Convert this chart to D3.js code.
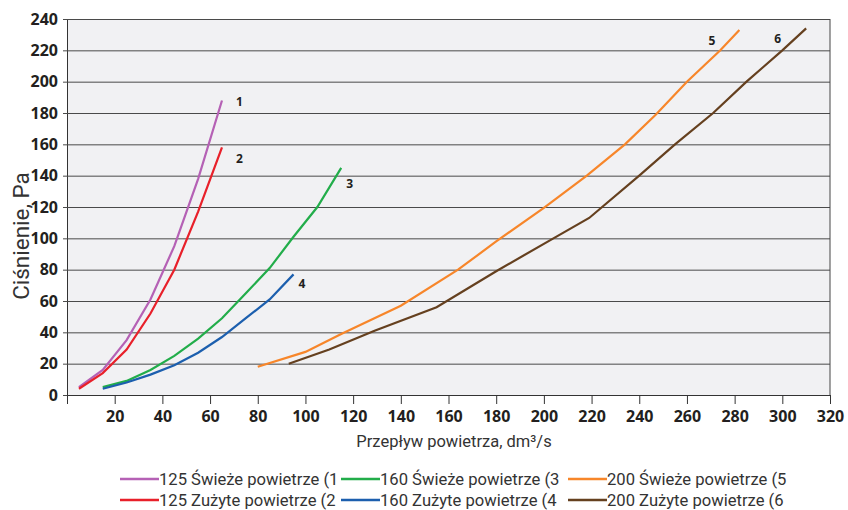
<!DOCTYPE html>
<html>
<head>
<meta charset="utf-8">
<script src="https://d3js.org/d3.v7.min.js"></script>
<style>
  body { margin: 0; background: #fff; }
  .tick text { font-family: "Open Sans", sans-serif; font-weight: 700; fill: #231f20; }
</style>
</head>
<body>
<svg id="chart" width="848" height="510"></svg>
<script>
// airflow vs pressure, one array per curve
var names = ["125 Świeże powietrze (1", "125 Zużyte powietrze (2", "160 Świeże powietrze (3",
             "160 Zużyte powietrze (4", "200 Świeże powietrze (5", "200 Zużyte powietrze (6"];
var tags = ["1", "2", "3", "4", "5", "6"];
var colors = ["#b561b5", "#e8202a", "#22ad4a", "#1c5fae", "#f7862a", "#65401f"];

var flow1 = [5, 15, 25, 35, 45, 55, 65];
var pres1 = [5, 16, 35, 61, 95, 138, 188];
var flow2 = [5, 15, 25, 35, 45, 55, 65];
var pres2 = [4, 14, 29, 52, 80, 117, 158];
var flow3 = [15, 25, 35, 45, 55, 65, 75, 85, 95, 105, 115];
var pres3 = [5, 9, 16, 25, 36, 49, 65, 81, 101, 120, 145];
var flow4 = [15, 25, 35, 45, 55, 65, 75, 85, 95];
var pres4 = [4, 8, 13, 19, 27, 37, 49, 61, 77];
var flow5 = [80, 100, 115, 140, 164, 180, 200, 218, 234, 247, 260, 274, 282];
var pres5 = [18, 27.5, 39, 57, 80, 98, 119.5, 140, 160, 179, 200, 220, 233];
var flow6 = [93, 110, 129, 155, 180, 204, 219, 240, 255, 271, 285, 300, 310];
var pres6 = [20, 29, 41, 56, 79, 100, 113, 140, 160, 180, 200, 220, 234];

var xTicks = [20, 40, 60, 80, 100, 120, 140, 160, 180, 200, 220, 240, 260, 280, 300, 320];
var yTicks = [0, 20, 40, 60, 80, 100, 120, 140, 160, 180, 200, 220, 240];

var flows = [flow1, flow2, flow3, flow4, flow5, flow6];
var pres = [pres1, pres2, pres3, pres4, pres5, pres6];
var series = names.map(function (n, i) {
    return { name: n, tag: tags[i], color: colors[i],
             pts: flows[i].map(function (f, j) { return [f, pres[i][j]]; }) };
});

// offsets of the curve number labels from the curve end
var tagOff = [[14, 6], [14, 16], [5, 20], [5, 14], [-31, 15], [-32, 15]];

var svg = d3.select("#chart");
var pL = 67, pR = 830, pT = 19, pB = 395;

var x = d3.scaleLinear().domain([0, 320]).range([pL, pR]);
var y = d3.scaleLinear().domain([0, 240]).range([pB, pT]);

svg.append("rect")
    .attr("x", pL).attr("y", pT)
    .attr("width", pR - pL).attr("height", pB - pT)
    .attr("fill", "#f1f1f3");

// grid + left axis
var yAxis = svg.append("g")
    .attr("transform", "translate(" + pL + ",0)")
    .call(d3.axisLeft(y).tickValues(yTicks).tickSize(-(pR - pL)).tickPadding(9).tickSizeOuter(0));
yAxis.select(".domain").attr("stroke", "#333");
yAxis.selectAll(".tick line").attr("stroke", "#4a4a4a").attr("x1", -4);
yAxis.selectAll(".tick text").style("font-size", "16px");

var xAxis = svg.append("g")
    .attr("transform", "translate(0," + pB + ")")
    .call(d3.axisBottom(x).tickValues(xTicks).tickSize(9).tickPadding(6).tickSizeOuter(9));
xAxis.select(".domain").attr("stroke", "#333");
xAxis.selectAll(".tick line").attr("stroke", "#333");
xAxis.selectAll(".tick text").style("font-size", "16px").attr("dy", "0.72em");

// right border
svg.append("line")
    .attr("x1", pR).attr("x2", pR).attr("y1", pT).attr("y2", pB)
    .attr("stroke", "#444");

var line = d3.line()
    .x(function (d) { return x(d[0]); })
    .y(function (d) { return y(d[1]); });

svg.selectAll(".curve")
    .data(series)
    .enter()
    .append("path")
    .attr("class", "curve")
    .attr("d", function (d) { return line(d.pts); })
    .attr("fill", "none")
    .attr("stroke", function (d) { return d.color; })
    .attr("stroke-width", 2.2);

svg.selectAll(".tag")
    .data(series)
    .enter()
    .append("text")
    .attr("class", "tag")
    .attr("x", function (d, i) { return x(d.pts[d.pts.length - 1][0]) + tagOff[i][0]; })
    .attr("y", function (d, i) { return y(d.pts[d.pts.length - 1][1]) + tagOff[i][1]; })
    .attr("font-family", "Open Sans, sans-serif")
    .attr("font-weight", 700)
    .attr("font-size", 12)
    .attr("fill", "#231f20")
    .text(function (d) { return d.tag; });

// axis titles
svg.append("text")
    .attr("transform", "translate(29,236) rotate(-90)")
    .attr("text-anchor", "middle")
    .attr("font-family", "Roboto, sans-serif")
    .attr("font-size", 22.5)
    .attr("fill", "#333")
    .text("Ciśnienie, Pa");

svg.append("text")
    .attr("x", 454).attr("y", 447)
    .attr("text-anchor", "middle")
    .attr("font-family", "Roboto, sans-serif")
    .attr("font-size", 16.5)
    .attr("fill", "#333")
    .text("Przepływ powietrza, dm³/s");

// legend, three columns by two rows
var colX = [120, 341, 568];
var rowY = [479, 500];
var leg = svg.selectAll(".leg")
    .data(series)
    .enter()
    .append("g")
    .attr("class", "leg")
    .attr("transform", function (d, i) {
        return "translate(" + colX[Math.floor(i / 2)] + "," + rowY[i % 2] + ")";
    });
leg.append("line")
    .attr("x1", 0).attr("x2", 39)
    .attr("stroke", function (d) { return d.color; })
    .attr("stroke-width", 2.5);
leg.append("text")
    .attr("x", 39).attr("dy", "0.35em")
    .attr("font-family", "Roboto, sans-serif")
    .attr("font-size", 16.6)
    .attr("fill", "#333")
    .text(function (d) { return d.name; });
</script>
</body>
</html>
